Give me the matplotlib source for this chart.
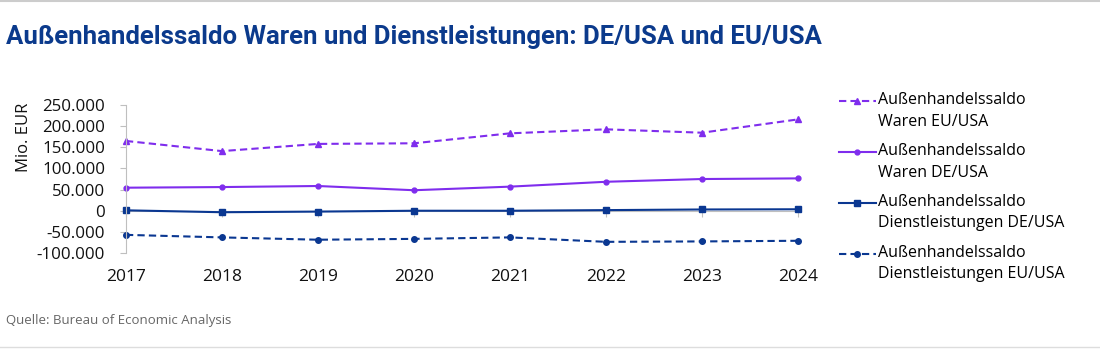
import matplotlib.pyplot as plt
from matplotlib.lines import Line2D

years = [2017, 2018, 2019, 2020, 2021, 2022, 2023, 2024]
waren_eu = [165000, 141000, 158000, 159500, 183000, 192500, 184500, 216000]
waren_de = [54500, 56000, 58500, 48500, 57000, 68500, 75000, 76500]
dienst_de = [1000, -3500, -2000, 0, 0, 1500, 3000, 3500]
dienst_eu = [-57000, -63000, -68500, -66500, -63000, -73500, -72500, -71000]

labels = ["Außenhandelssaldo\nWaren EU/USA",
          "Außenhandelssaldo\nWaren DE/USA",
          "Außenhandelssaldo\nDienstleistungen DE/USA",
          "Außenhandelssaldo\nDienstleistungen EU/USA"]
yticks = [-100000, -50000, 0, 50000, 100000, 150000, 200000, 250000]

purple = "#7f2ded"
blue = "#0a3791"

plt.rcParams['font.family'] = ['Open Sans', 'DejaVu Sans']

fig = plt.figure(figsize=(11, 3.5), dpi=100)
ax = fig.add_axes([0.1145, 0.277, 0.611, 0.423])

ax.plot(years, waren_eu, color=purple, ls=(0, (3.5, 2)), lw=1.5,
        marker='^', ms=4, clip_on=False, label=labels[0])
ax.plot(years, waren_de, color=purple, ls='-', lw=1.5,
        marker='o', ms=3.5, clip_on=False, label=labels[1])
ax.plot(years, dienst_de, color=blue, ls='-', lw=1.5,
        marker='s', ms=4.5, clip_on=False, label=labels[2])
ax.plot(years, dienst_eu, color=blue, ls=(0, (3.5, 2)), lw=1.5,
        marker='o', ms=4, clip_on=False, label=labels[3])

ax.set_xlim(years[0], years[-1])
ax.set_ylim(-100000, 250000)
ax.set_xticks(years)
ax.set_yticks(yticks)
ax.set_yticklabels([f"{v:,}".replace(",", ".") for v in yticks])

for s in ['top', 'right']:
    ax.spines[s].set_visible(False)
ax.spines['left'].set_color('#bfbfbf')
ax.spines['bottom'].set_color('#bfbfbf')
ax.spines['bottom'].set_position(('data', 0))
ax.spines['bottom'].set_zorder(0)
ax.tick_params(axis='y', colors='#bfbfbf', labelcolor='#111111',
               labelsize=12.2, length=4, pad=11)
ax.tick_params(axis='x', colors='#bfbfbf', labelcolor='#111111',
               labelsize=12.5, length=4, pad=38)
ax.set_ylabel("Mio. EUR", fontsize=12, color='#111111')
ax.yaxis.set_label_coords(-0.14, 0.78)

leg = fig.legend(loc='upper left', bbox_to_anchor=(0.757, 0.755), frameon=False,
                 fontsize=11.5, handlelength=2.3, handletextpad=0.15,
                 labelspacing=0.85, borderaxespad=0)
for t in leg.get_texts():
    t.set_linespacing(1.45)
# put the handle next to the first text line, as in the original
for h in leg.legend_handles:
    h.set_ydata([v + 7.6 for v in h.get_ydata()])

fig.text(0.005, 0.893, "Außenhandelssaldo Waren und Dienstleistungen: DE/USA und EU/USA",
         fontsize=18.5, fontweight='bold', color='#0b3a8c', va='center',
         family=['Liberation Sans Narrow', 'Roboto', 'DejaVu Sans'])
fig.text(0.005, 0.083, "Quelle: Bureau of Economic Analysis",
         fontsize=9.5, color='#666666', va='center')

fig.add_artist(Line2D([0, 1], [0.998, 0.998], color='#cccccc', lw=1.5))
fig.add_artist(Line2D([0, 1], [0.009, 0.009], color='#dddddd', lw=1))

fig.savefig("out.png", dpi=100)
